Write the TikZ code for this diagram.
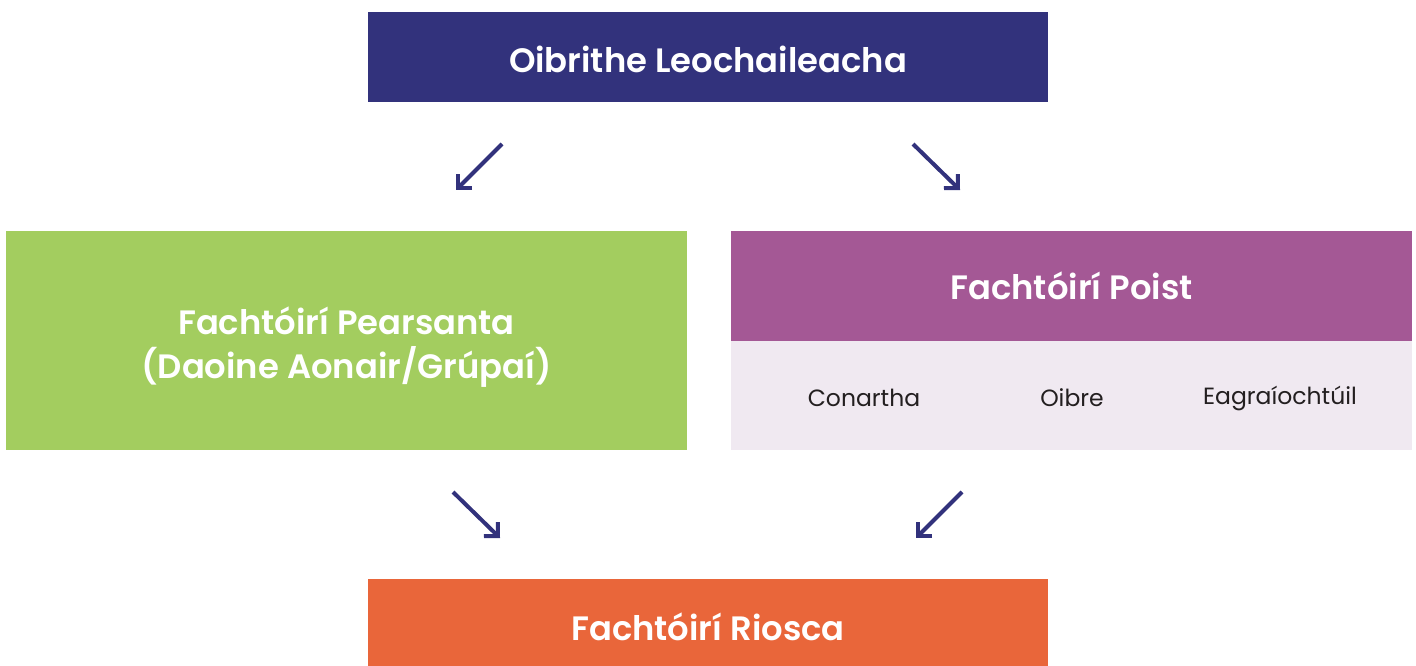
\documentclass[tikz,border=0pt]{standalone}
\usepackage{fontspec}
\setmainfont{Poppins}
\newfontfamily\semib{Poppins SemiBold}
\usetikzlibrary{arrows.meta}
\definecolor{navy}{HTML}{32327C}
\definecolor{leaf}{HTML}{A3CD5F}
\definecolor{plum}{HTML}{A45895}
\definecolor{lilac}{HTML}{F0E9F1}
\definecolor{flame}{HTML}{E9663A}
\definecolor{ink}{HTML}{231F20}
\tikzset{
  box/.style={rectangle, inner sep=0pt, text=white, font=\fontsize{33.8}{44}\selectfont\semib, align=center},
  small/.style={inner sep=0pt, text=ink, font=\fontsize{23.5}{28}\selectfont},
  flow/.style={draw=navy, line width=4pt, line cap=butt, -{Straight Barb[angle=90:14pt, line width=4pt, line join=miter]}}
}
\begin{document}
\begin{tikzpicture}[x=1pt, y=-1pt]
\useasboundingbox (0,0) rectangle (1416,665);
\node[box, fill=navy, minimum width=680pt, minimum height=90pt] (top) at (708,57) {};
\node[box] (topt) at (708,59) {Oibrithe Leochaileacha};
\node[box, fill=leaf, minimum width=681pt, minimum height=219pt] (pers) at (346.5,340.5) {};
\node[box] (perst) at (346.5,347) {Fachtóirí Pearsanta\\(Daoine Aonair/Grúpaí)};
\node[box, fill=plum, minimum width=681pt, minimum height=110pt] (poist) at (1071.5,286) {Fachtóirí Poist};
\node[fill=lilac, inner sep=0pt, minimum width=681pt, minimum height=109pt] (sub) at (1071.5,395.5) {};
\node[small] (c1) at (864,398) {Conartha};
\node[small] (c2) at (1072,398) {Oibre};
\node[small] (c3) at (1280,398) {Eagraíochtúil};
\node[box, fill=flame, minimum width=680pt, minimum height=96pt] (risk) at (708,627) {Fachtóirí Riosca};
\coordinate (a1s) at (502,144); \coordinate (a1e) at (456,190);
\coordinate (a2s) at (913,144); \coordinate (a2e) at (960,190);
\coordinate (a3s) at (453,492); \coordinate (a3e) at (500,538);
\coordinate (a4s) at (962,492); \coordinate (a4e) at (916,538);
\draw[flow] (a1s) -- (a1e);
\draw[flow] (a2s) -- (a2e);
\draw[flow] (a3s) -- (a3e);
\draw[flow] (a4s) -- (a4e);
\end{tikzpicture}
\end{document}
